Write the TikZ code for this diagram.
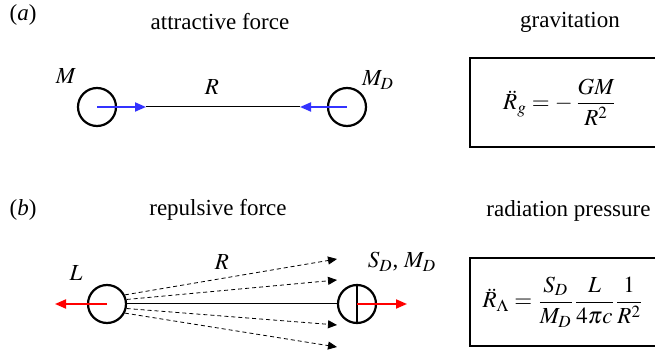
\documentclass[tikz,border=0pt]{standalone}
\usepackage{mathptmx}
\usepackage{fontspec}
\setmainfont{Liberation Serif}
\usetikzlibrary{arrows.meta, positioning}

\definecolor{pullblue}{RGB}{51,51,255}
\definecolor{pushred}{RGB}{255,0,0}

\tikzset{
  body/.style={circle, draw, line width=1.1pt, minimum size=19pt, inner sep=0pt},
  pull/.style={-{Triangle[length=5.5pt,width=4.5pt]}, pullblue, line width=1pt},
  push/.style={-{Triangle[length=5.5pt,width=4.5pt]}, pushred, line width=1pt},
  ray/.style={-{Triangle[length=4.5pt,width=4pt]}, dashed, dash pattern=on 2pt off 1.5pt, line width=0.4pt},
  eqbox/.style={draw, line width=0.6pt}
}

\begin{document}
\begin{tikzpicture}[x=0.5pt, y=-0.5pt, font=\rmfamily\fontsize{11.5}{14}\selectfont]
		\useasboundingbox (0,0) rectangle (655,353);
		% (a) attraction
		\node (lab_a) at (23,15) {(\textit{a})};
		\node (attract) at (220,22) {attractive force};
		\node (grav) at (570,22) {gravitation};
		\node[body] (mass) at (97,107) {};
		\node[body] (mass_d) at (347,107) {};
		\coordinate (mass_tip) at (146,107);
		\coordinate (mass_d_tip) at (300,107);
		\draw[line width=0.5pt] (mass_tip) -- (mass_d_tip);
		\draw[pull] (mass.center) -- (mass_tip);
		\draw[pull] (mass_d.center) -- (mass_d_tip);
		\node (lab_m) at (66,76) {$M$};
		\node (lab_r_a) at (212,87) {$R$};
		\node (lab_md) at (378,80) {$M_D$};
		\draw[eqbox] (470,58) rectangle (700,147);
		\node (eq_g) at (560,102) {$\displaystyle \ddot{R}_g = -\,\frac{GM}{R^2}$};
		% (b) repulsion
		\node (lab_b) at (23,210) {(\textit{b})};
		\node (repulse) at (218,210) {repulsive force};
		\node[anchor=west, inner sep=0pt] (radpress) at (486,211) {radiation pressure};
		\node[body] (lum) at (107,304) {};
		\node[body] (sail) at (357,304) {};
		\draw[line width=1.1pt] (sail.north) -- (sail.south);
		\coordinate (lum_tip) at (55,304);
		\coordinate (sail_tip) at (407,304);
		\draw[line width=0.5pt] (lum.east) -- (sail.west);
		\foreach \a/\y in {27/259, 13/280, -13/325, -27/347} {
			\coordinate (ray\y) at (337,\y);
			\draw[ray] (lum.\a) -- (ray\y);
		}
		\draw[push] (lum.center) -- (lum_tip);
		\draw[push] (sail.center) -- (sail_tip);
		\node (lab_l) at (76,273) {$L$};
		\node (lab_r_b) at (222,262) {$R$};
		\node (lab_sd) at (402,262) {$S_D$, $M_D$};
		\draw[eqbox] (470,258) rectangle (700,346);
		\node (eq_l) at (563,302) {$\displaystyle \ddot{R}_\Lambda = \frac{S_D}{M_D}\frac{L}{4\pi c}\frac{1}{R^2}$};
	\end{tikzpicture}
\end{document}
